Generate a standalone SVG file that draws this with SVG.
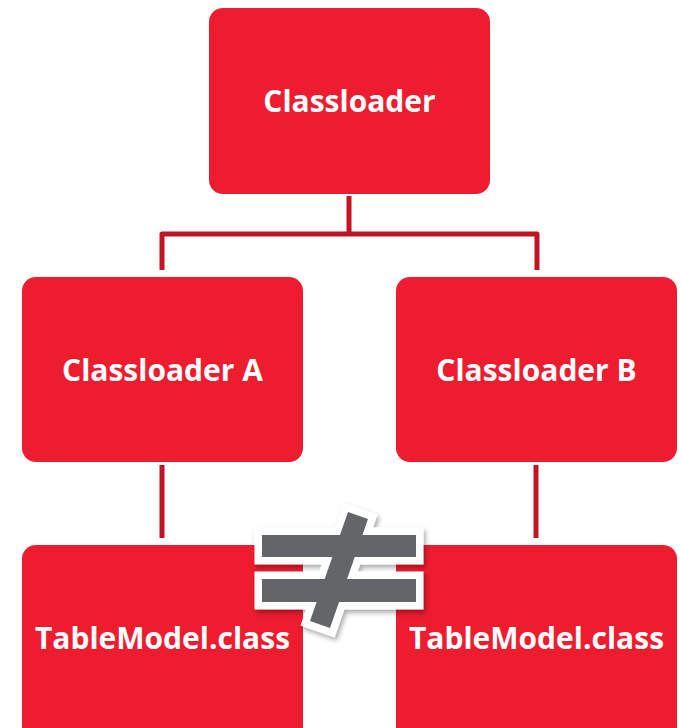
<svg xmlns="http://www.w3.org/2000/svg" width="681" height="728" viewBox="0 0 681 728">
<style>
.box{fill:#ED1C2F}
.lbl{fill:#fff;font-family:"Open Sans","Noto Sans",sans-serif;font-weight:bold;font-size:30px;text-anchor:middle}
.conn{fill:none;stroke:#C31424;stroke-width:5;stroke-linejoin:round}
.ne-o{fill:#fff;stroke:#fff;stroke-width:15;stroke-linejoin:miter}
.ne-f{fill:#646568}
</style>
<defs>
<filter id="sh" x="-20%" y="-20%" width="140%" height="140%">
<feDropShadow dx="2" dy="3" stdDeviation="2.5" flood-color="#000" flood-opacity="0.35"/>
</filter>
</defs>
<g id="connectors">
<path class="conn" d="M349,196 V234 M162,270 V234 H537 V270"/>
<path class="conn" d="M162,465 V538"/>
<path class="conn" d="M536,465 V538"/>
</g>
<g id="root"><rect class="box" x="209" y="8" width="281" height="186" rx="14"/><text class="lbl" x="349.5" y="112">Classloader</text></g>
<g id="loaderA"><rect class="box" x="22" y="277" width="281" height="185" rx="14"/><text class="lbl" x="162.5" y="381">Classloader A</text></g>
<g id="loaderB"><rect class="box" x="396" y="277" width="281" height="185" rx="14"/><text class="lbl" x="536.5" y="381">Classloader B</text></g>
<g id="tableA"><rect class="box" x="22" y="545" width="281" height="200" rx="14"/><text class="lbl" x="162.5" y="649">TableModel.class</text></g>
<g id="tableB"><rect class="box" x="396" y="545" width="281" height="200" rx="14"/><text class="lbl" x="536.5" y="649">TableModel.class</text></g>
<g id="notEqual">
<g filter="url(#sh)">
<rect class="ne-o" x="262" y="535" width="154" height="22"/>
<rect class="ne-o" x="262" y="579" width="154" height="23"/>
<polygon class="ne-o" points="348,512 368,519 330,628 310,621"/>
</g>
<rect class="ne-f" x="262" y="535" width="154" height="22"/>
<rect class="ne-f" x="262" y="579" width="154" height="23"/>
<polygon class="ne-f" points="348,512 368,519 330,628 310,621"/>
</g>
</svg>
